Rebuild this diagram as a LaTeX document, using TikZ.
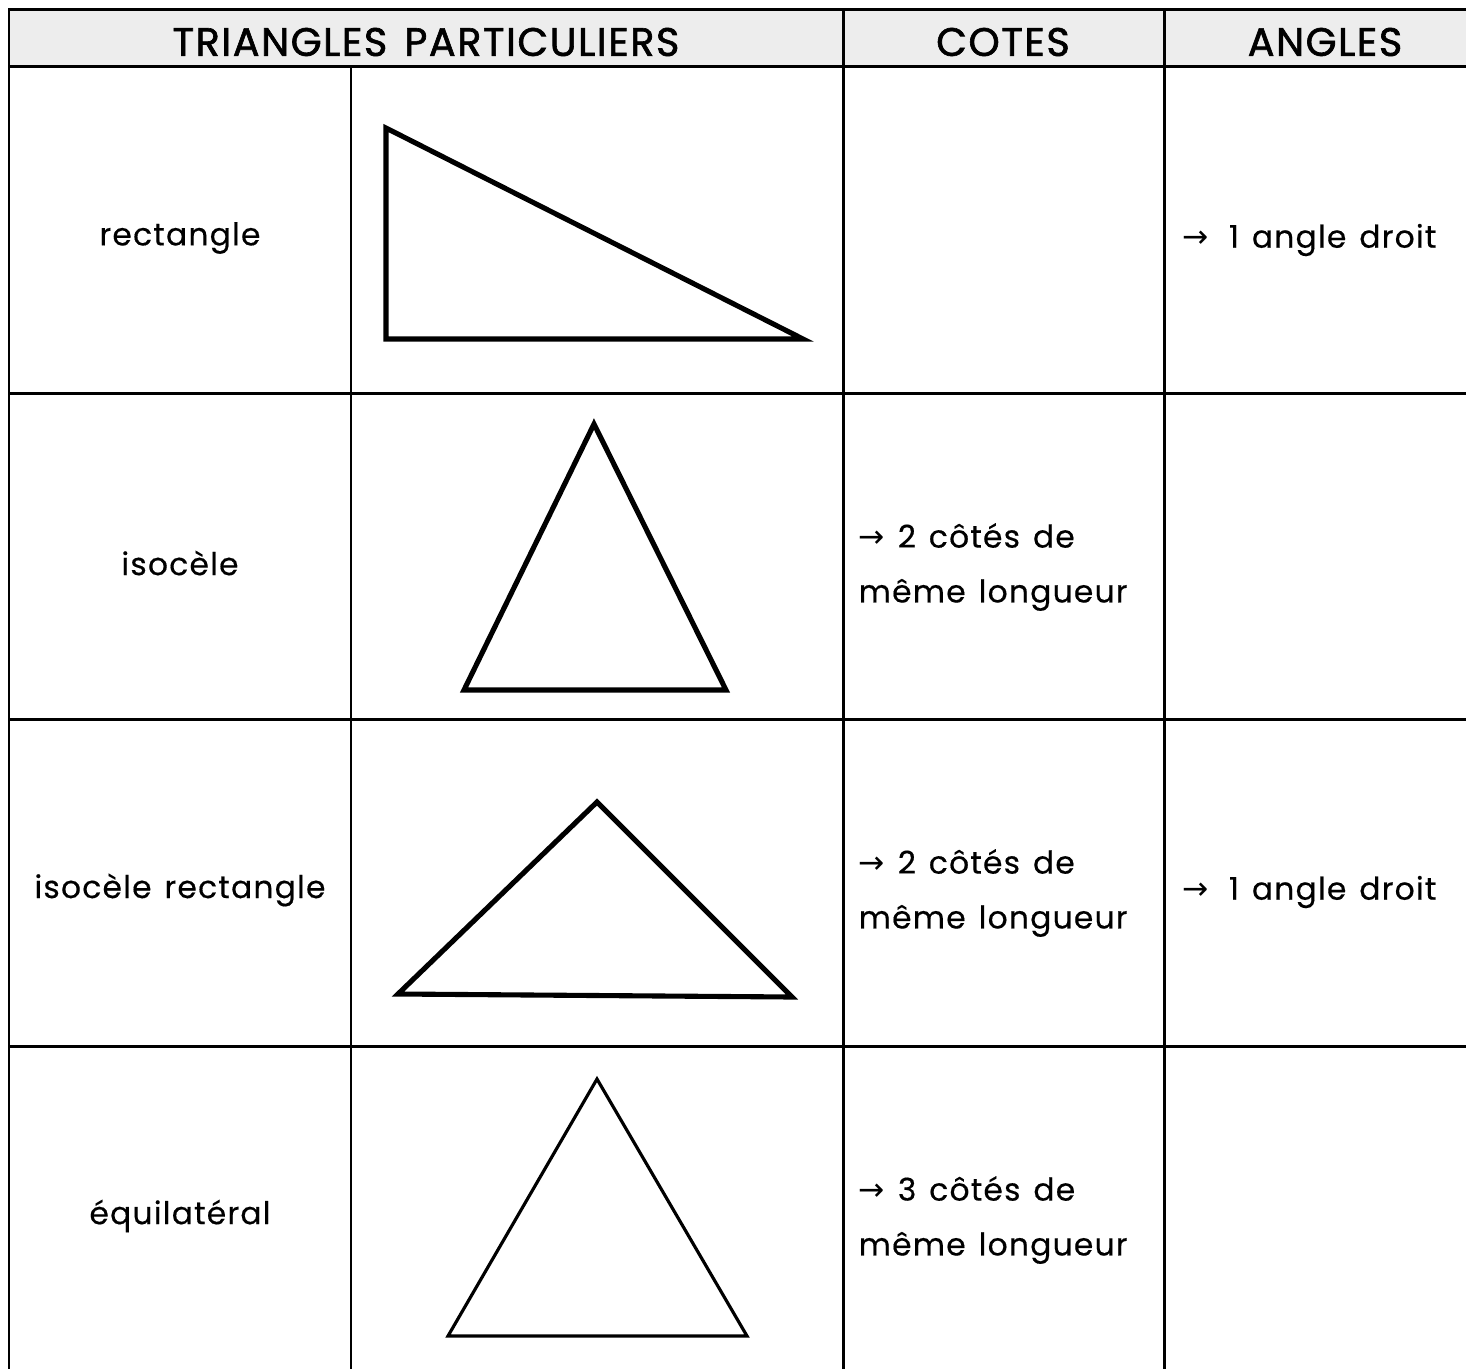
\documentclass[tikz,border=0pt]{standalone}
\usepackage{fontspec}
\setmainfont{Poppins}[LetterSpace=4, WordSpace=1.35, FakeBold=0.4]
\newfontfamily\headfont{Poppins}[LetterSpace=4, WordSpace=1.4, FakeBold=1.6]
\newfontfamily\arrowfont{DejaVu Sans}
\newcommand{\fleche}{{\arrowfont →}}
\definecolor{headgray}{HTML}{EDEDED}
\tikzset{
  grid/.style={line width=0.85pt, black},
  tri/.style={line width=1.45pt, line join=miter},
  head/.style={font=\headfont\fontsize{11.3}{13}\selectfont},
  cell/.style={font=\fontsize{8.9}{15.6}\selectfont, inner sep=0pt},
  note/.style={cell, anchor=west, align=left}
}
\begin{document}
\begin{tikzpicture}[x=0.01cm,y=-0.01cm]
\useasboundingbox (0,0) rectangle (1466,1369);
% header
\fill[headgray] (9,9) rectangle (1466,66);
\node[head] (tp) at (426,42) {TRIANGLES PARTICULIERS};
\node[head] (co) at (1003,42) {COTES};
\node[head] (an) at (1325,42) {ANGLES};
% grid
\draw[grid] (1466,9) -- (9,9) -- (9,1369);
\foreach \y in {66,393,719,1046}
  \draw[grid] (9,\y) -- (1466,\y);
\draw[grid] (351,66) -- (351,1369);
\foreach \x in {843,1164}
  \draw[grid] (\x,9) -- (\x,1369);
% names
\node[cell] (rect) at (180,238) {rectangle};
\node[cell] (iso) at (180,563) {isocèle};
\node[cell] (isorect) at (180,890) {isocèle rectangle};
\node[cell] (equi) at (180,1216) {équilatéral};
% triangles
\draw[tri] (386,128) -- (386,339) -- (803,339) -- cycle;
\draw[tri] (594,424) -- (726,690) -- (464,690) -- cycle;
\draw[tri] (597,802) -- (792,997) -- (398,994) -- cycle;
\draw[tri, line width=0.9pt] (597,1079) -- (747,1336) -- (448,1336) -- cycle;
% cotes
\node[note] (co2) at (858,567) {\fleche{} 2 côtés de\\même longueur};
\node[note] (co3) at (858,893) {\fleche{} 2 côtés de\\même longueur};
\node[note] (co4) at (858,1220) {\fleche{} 3 côtés de\\même longueur};
% angles
\node[note] (an1) at (1182,240) {\fleche{}\hspace{2pt} 1 angle droit};
\node[note] (an3) at (1182,892) {\fleche{}\hspace{2pt} 1 angle droit};
\end{tikzpicture}
\end{document}
